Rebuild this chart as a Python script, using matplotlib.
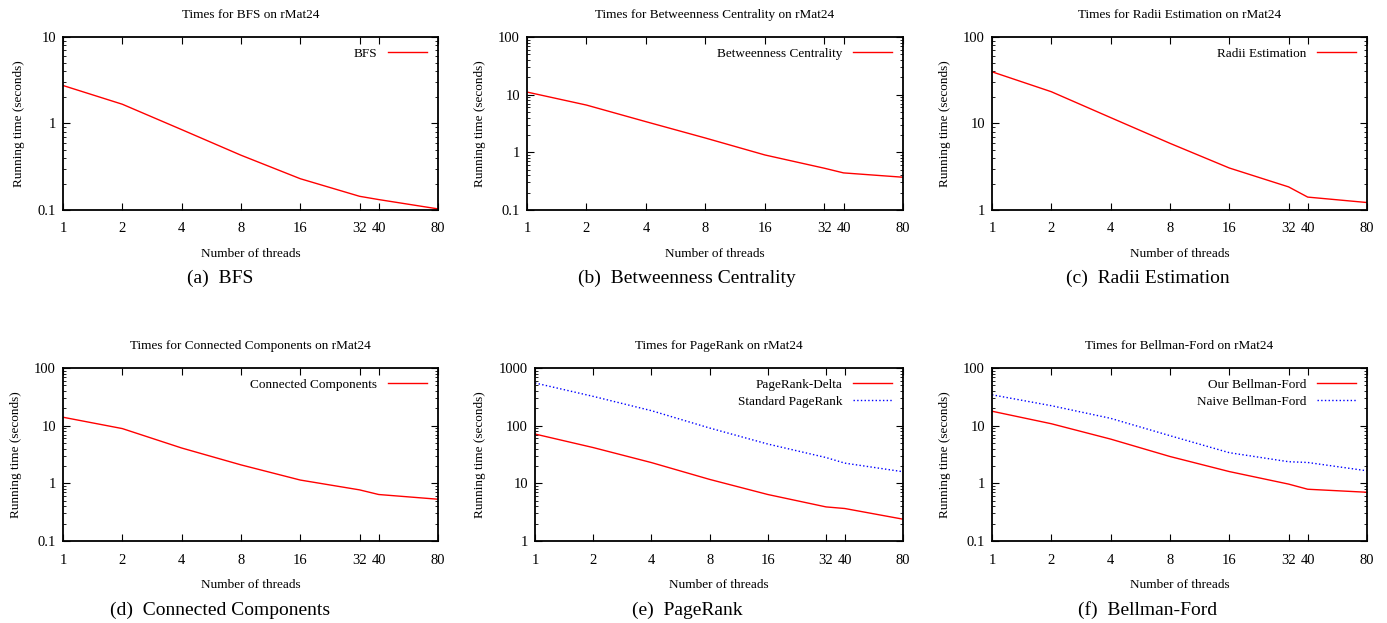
import matplotlib
matplotlib.use("Agg")
import matplotlib.pyplot as plt
from matplotlib.ticker import FixedLocator, FuncFormatter, LogLocator, NullLocator, NullFormatter

plt.rcParams['font.family'] = ['Liberation Serif', 'DejaVu Serif']

threads = [1, 2, 4, 8, 16, 32, 40, 80]

bfs = [2.75, 1.67, 0.85, 0.43, 0.23, 0.144, 0.132, 0.103]
bc = [11.1, 6.6, 3.4, 1.77, 0.9, 0.53, 0.44, 0.37]
radii = [39.6, 23.3, 11.7, 5.9, 3.06, 1.85, 1.41, 1.22]
cc = [14.0, 8.9, 4.1, 2.09, 1.14, 0.77, 0.64, 0.53]
pr_delta = [71.6, 41.7, 22.9, 11.7, 6.4, 3.9, 3.66, 2.39]
pr_standard = [550, 322, 182, 91, 48, 28, 22.4, 15.9]
bf_ours = [17.8, 10.8, 5.85, 2.92, 1.6, 0.97, 0.79, 0.70]
bf_naive = [34.3, 22.2, 13.4, 6.7, 3.4, 2.37, 2.3, 1.65]

titles = ["Times for BFS on rMat24",
          "Times for Betweenness Centrality on rMat24",
          "Times for Radii Estimation on rMat24",
          "Times for Connected Components on rMat24",
          "Times for PageRank on rMat24",
          "Times for Bellman-Ford on rMat24"]
captions = ["(a)  BFS", "(b)  Betweenness Centrality", "(c)  Radii Estimation",
            "(d)  Connected Components", "(e)  PageRank", "(f)  Bellman-Ford"]

panels = [
    [("BFS", bfs, "red", "-")],
    [("Betweenness Centrality", bc, "red", "-")],
    [("Radii Estimation", radii, "red", "-")],
    [("Connected Components", cc, "red", "-")],
    [("PageRank-Delta", pr_delta, "red", "-"), ("Standard PageRank", pr_standard, "blue", ":")],
    [("Our Bellman-Ford", bf_ours, "red", "-"), ("Naive Bellman-Ford", bf_naive, "blue", ":")],
]
ylims = [(0.1, 10), (0.1, 100), (1, 100), (0.1, 100), (1, 1000), (0.1, 100)]

W, H = 1387, 623
fig = plt.figure(figsize=(W / 100, H / 100), dpi=100)

# pixel boxes (left, top, right, bottom)
boxes = [(63, 37, 438, 210), (527, 37, 903, 210), (992, 37, 1367, 210),
         (63, 368, 438, 541), (535, 368, 903, 541), (992, 368, 1367, 541)]
col_centers = [220, 687, 1148]
cap_y = [278, 610]

fs = 9.5
tfs = 10.5
for i, (box, series) in enumerate(zip(boxes, panels)):
    l, t, r, b = box
    ax = fig.add_axes([l / W, 1 - b / H, (r - l) / W, (b - t) / H])
    for label, vals, color, ls in series:
        ax.plot(threads, vals, color=color, linestyle=ls, linewidth=1.0, label=label)
    ax.set_xscale('log', base=2)
    ax.set_yscale('log')
    ax.set_xlim(1, 80)
    ax.set_ylim(*ylims[i])
    ax.xaxis.set_major_locator(FixedLocator(threads))
    ax.xaxis.set_major_formatter(FuncFormatter(lambda v, p: f"{v:g}"))
    ax.xaxis.set_minor_locator(NullLocator())
    ax.yaxis.set_major_locator(LogLocator(base=10, numticks=10))
    ax.yaxis.set_major_formatter(FuncFormatter(lambda v, p: f"{v:g}"))
    ax.yaxis.set_minor_locator(LogLocator(base=10, subs=range(2, 10), numticks=20))
    ax.yaxis.set_minor_formatter(NullFormatter())
    ax.tick_params(which='major', direction='in', length=5, width=0.8,
                   top=True, right=True, labelsize=tfs, pad=5)
    ax.tick_params(which='minor', direction='in', length=2.5, width=0.6,
                   top=True, right=True)
    ax.tick_params(axis='x', pad=9)
    for s in ax.spines.values():
        s.set_linewidth(1.3)
    ax.set_xlabel("Number of threads", fontsize=fs, labelpad=9)
    ax.set_ylabel("Running time (seconds)", fontsize=fs, labelpad=9)
    ax.set_title(titles[i], fontsize=fs, pad=14)
    ax.legend(loc='upper right', frameon=False, markerfirst=False, fontsize=fs,
              handlelength=3.0, borderaxespad=0.4, labelspacing=0.35)
    row, col = divmod(i, 3)
    fig.text(col_centers[col] / W, 1 - cap_y[row] / H, captions[i],
             ha='center', va='center', fontsize=14)

fig.savefig("out.png", dpi=100)
